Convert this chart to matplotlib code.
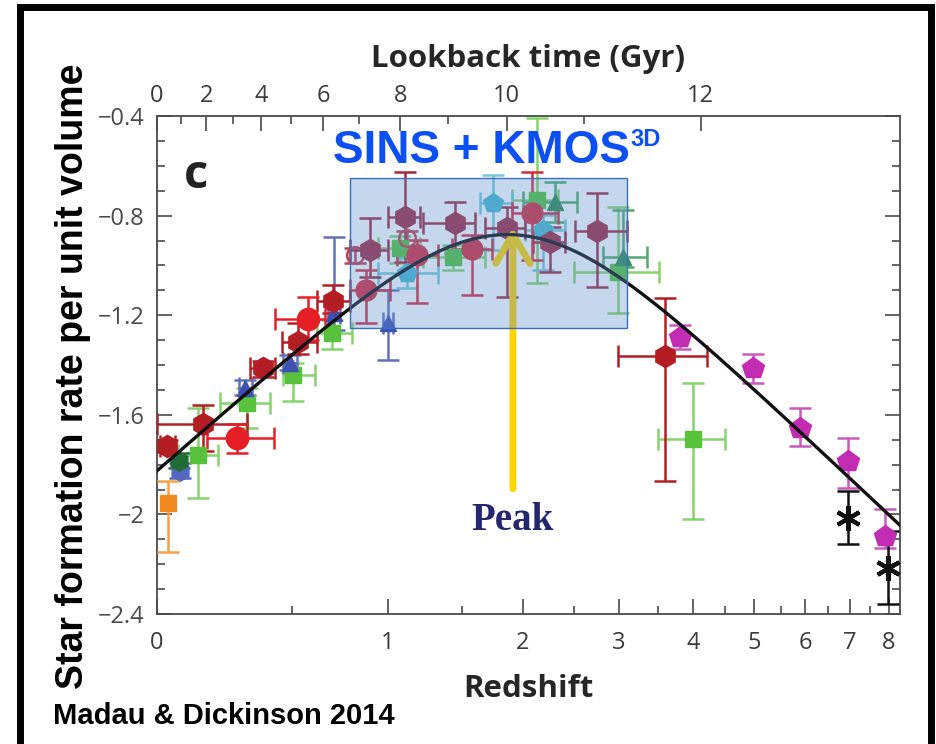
import numpy as np
import matplotlib
matplotlib.use('Agg')
import matplotlib.pyplot as plt
from matplotlib.patches import Rectangle

# best-fit cosmic star formation history (Madau & Dickinson 2014)
fit_norm = 0.015
fit_a = 2.7
fit_b = 2.9
fit_c = 5.6

# cosmology used for the lookback time axis
H0 = 70.0
Om = 0.3
OL = 0.7

# --- data: redshift, redshift bin edges, log10 SFR density and its range ---
# IR, dark red
ird_z = [0.030, 0.148, 0.375, 0.527, 0.696, 3.60]
ird_zlo = [0.009, 0.000, 0.322, 0.455, 0.617, 2.99]
ird_zhi = [0.055, 0.310, 0.425, 0.617, 0.785, 4.21]
ird_y = [-1.724, -1.635, -1.414, -1.309, -1.144, -1.362]
ird_ylo = [-1.750, -1.744, -1.450, -1.354, -1.193, -1.865]
ird_yhi = [-1.700, -1.559, -1.382, -1.233, -1.080, -1.132]

# IR, bright red
irr_z = [0.271, 0.574]
irr_zlo = [0.162, 0.425]
irr_zhi = [0.420, 0.656]
irr_y = [-1.692, -1.217]
irr_ylo = [-1.752, -1.301]
irr_yhi = [-1.635, -1.128]

# IR, rose hexagons
irh_z = [0.896, 1.105, 1.446, 1.860, 2.253, 2.748]
irh_zlo = [0.785, 1.001, 1.223, 1.677, 2.092, 2.508]
irh_zhi = [1.001, 1.202, 1.598, 2.018, 2.404, 3.101]
irh_y = [-0.939, -0.806, -0.831, -0.851, -0.907, -0.863]
irh_ylo = [-1.048, -0.988, -0.951, -1.128, -1.028, -1.088]
irh_yhi = [-0.810, -0.625, -0.746, -0.766, -0.847, -0.710]

# IR, rose circles
irp_z = [0.873, 1.183, 1.575, 2.083]
irp_zlo = [0.785, 1.056, 1.425, 1.903]
irp_zhi = [1.013, 1.325, 1.733, 2.333]
irp_y = [-1.100, -0.959, -0.935, -0.790]
irp_ylo = [-1.233, -1.153, -1.120, -0.979]
irp_yhi = [-1.020, -0.899, -0.879, -0.625]

# IR, open circles
iro_z = [0.812, 1.118]
iro_y = [-0.959, -0.891]

# UV, green squares
uvg_z = [0.131, 0.310, 0.504, 0.691, 1.074, 1.432, 2.130, 2.991, 4.000]
uvg_zlo = [0.065, 0.208, 0.460, 0.617, 0.942, 1.223, 1.903, 2.498, 3.500]
uvg_zhi = [0.201, 0.404, 0.607, 0.795, 1.202, 1.677, 2.333, 3.514, 4.503]
uvg_y = [-1.760, -1.551, -1.442, -1.273, -0.931, -0.967, -0.738, -1.028, -1.696]
uvg_ylo = [-1.933, -1.652, -1.543, -1.334, -0.990, -1.020, -1.072, -1.193, -2.018]
uvg_yhi = [-1.571, -1.491, -1.390, -1.221, -0.880, -0.920, -0.410, -0.766, -1.474]

# UV, dark green triangles
uvt_z = [2.303, 3.052]
uvt_zlo = [2.000, 2.816]
uvt_zhi = [2.529, 3.355]
uvt_y = [-0.746, -0.967]
uvt_ylo = [-0.827, -1.008]
uvt_yhi = [-0.666, -0.778]

# UV, local points
uvl_z = [0.068, 0.071]
uvl_y = [-1.784, -1.825]

# UV, blue triangles
uvb_z = [0.302, 0.491, 0.701, 1.001]
uvb_zlo = [0.280, 0.460, 0.670, 0.970]
uvb_zhi = [0.330, 0.520, 0.730, 1.030]
uvb_y = [-1.491, -1.390, -1.193, -1.233]
uvb_ylo = [-1.520, -1.420, -1.261, -1.378]
uvb_yhi = [-1.460, -1.360, -0.887, -1.100]

# UV, cyan pentagons
uvc_z = [1.118, 1.742, 2.186]
uvc_zlo = [0.942, 1.637, 2.018]
uvc_zhi = [1.325, 1.903, 2.404]
uvc_y = [-1.032, -0.750, -0.859]
uvc_ylo = [-1.092, -0.939, -1.020]
uvc_yhi = [-0.971, -0.637, -0.798]

# UV, magenta pentagons
uvm_z = [3.807, 4.985, 5.893, 6.961, 7.897]
uvm_y = [-1.289, -1.414, -1.652, -1.784, -2.086]
uvm_ylo = [-1.334, -1.474, -1.724, -1.893, -2.134]
uvm_yhi = [-1.241, -1.354, -1.571, -1.692, -1.977]

# UV, black stars
uvs_z = [6.961, 7.977]
uvs_y = [-2.014, -2.215]
uvs_ylo = [-2.118, -2.360]
uvs_yhi = [-1.905, -2.066]

# UV, orange square
uvo_z = [0.034]
uvo_y = [-1.953]
uvo_ylo = [-2.150]
uvo_yhi = [-1.865]

yticks = [-0.4, -0.8, -1.2, -1.6, -2.0, -2.4]
ytick_labels = ['\u22120.4', '\u22120.8', '\u22121.2', '\u22121.6', '\u22122', '\u22122.4']
zticks = [0, 1, 2, 3, 4, 5, 6, 7, 8]
gyr_ticks = [0, 2, 4, 6, 8, 10, 12]
gyr_minor = [1, 3, 5, 7, 9, 11]


def fwd(z):
    return np.log10(1 + np.asarray(z, dtype=float))


def inv(u):
    return 10 ** np.asarray(u, dtype=float) - 1


def draw(ax, z, y, ylo, yhi, color, marker, ms, zlo=None, zhi=None,
         ecolor=None, mfc=None, mew=None, zorder=3):
    z = np.array(z)
    y = np.array(y)
    yerr = [y - np.array(ylo), np.array(yhi) - y]
    xerr = None
    if zlo is not None:
        xerr = [z - np.array(zlo), np.array(zhi) - z]
    eb = ax.errorbar(z, y, yerr=yerr, xerr=xerr, ls='none', marker=marker,
                     ms=ms, color=color, mfc=mfc if mfc else color, mec=color,
                     ecolor=ecolor if ecolor else color, elinewidth=1.8,
                     capsize=8, capthick=1.8, zorder=zorder)
    if mew is not None:
        eb[0].set_markeredgewidth(mew)
    return eb


fig = plt.figure(figsize=(9.37, 7.44), dpi=100)
W, H = 937.0, 744.0
ax = fig.add_axes([157 / W, 1 - 614 / H, (900 - 157) / W, (614 - 116) / H])
ax.set_xscale('function', functions=(fwd, inv))
ax.set_xlim(0, 8.3)
ax.set_ylim(-2.4, -0.4)

# data points
draw(ax, uvo_z, uvo_y, uvo_ylo, uvo_yhi, '#f28a22', 's', 11, ecolor='#f4a24a')
draw(ax, uvg_z, uvg_y, uvg_ylo, uvg_yhi, '#58c23c', 's', 11,
     zlo=uvg_zlo, zhi=uvg_zhi, ecolor='#86d46c')
draw(ax, uvb_z, uvb_y, uvb_ylo, uvb_yhi, '#3e50b2', '^', 12,
     zlo=uvb_zlo, zhi=uvb_zhi, ecolor='#6271bb')
draw(ax, uvt_z, uvt_y, uvt_ylo, uvt_yhi, '#2e8b57', '^', 12,
     zlo=uvt_zlo, zhi=uvt_zhi, ecolor='#54a86e')
draw(ax, uvc_z, uvc_y, uvc_ylo, uvc_yhi, '#4cb8d2', 'p', 15,
     zlo=uvc_zlo, zhi=uvc_zhi, ecolor='#74c8dc')
draw(ax, [uvl_z[1]], [uvl_y[1]], [uvl_y[1] - 0.03], [uvl_y[1] + 0.03],
     '#5667c2', 'h', 14)
draw(ax, [uvl_z[0]], [uvl_y[0]], [uvl_y[0] - 0.03], [uvl_y[0] + 0.03],
     '#1f6b35', 'h', 14)
draw(ax, iro_z, iro_y, np.array(iro_y) - 0.03, np.array(iro_y) + 0.03,
     '#c04050', 'o', 12, mfc='none', mew=1.8)
draw(ax, irh_z, irh_y, irh_ylo, irh_yhi, '#a3283f', 'h', 16,
     zlo=irh_zlo, zhi=irh_zhi)
draw(ax, irp_z, irp_y, irp_ylo, irp_yhi, '#d82a3e', 'o', 15,
     zlo=irp_zlo, zhi=irp_zhi)
draw(ax, ird_z, ird_y, ird_ylo, ird_yhi, '#b31e24', 'h', 16,
     zlo=ird_zlo, zhi=ird_zhi)
draw(ax, irr_z, irr_y, irr_ylo, irr_yhi, '#e61e26', 'o', 16,
     zlo=irr_zlo, zhi=irr_zhi)
draw(ax, uvm_z, uvm_y, uvm_ylo, uvm_yhi, '#c12cb2', 'p', 16, ecolor='#c85cbc')
draw(ax, uvs_z, uvs_y, uvs_ylo, uvs_yhi, '#111111', (6, 2, 0), 18, mew=3)

# fit curve
zc = np.linspace(0, 8.3, 600)
psi = fit_norm * (1 + zc) ** fit_a / (1 + ((1 + zc) / fit_b) ** fit_c)
ax.plot(zc, np.log10(psi), color='#111111', lw=2.4, zorder=4)

# peak arrow, under the shaded box
ax.annotate('', xy=(1.91, -0.848), xytext=(1.91, -1.897),
            arrowprops=dict(arrowstyle='->,head_length=1.1,head_width=0.65',
                            lw=5, color='#ffd400', mutation_scale=19,
                            shrinkA=0, shrinkB=0),
            zorder=3.5)

# SINS + KMOS3D redshift window
ax.add_patch(Rectangle((0.785, -1.253), 3.10 - 0.785, 0.604,
                       facecolor='#5a8fc9', alpha=0.35, edgecolor='none',
                       zorder=5))
ax.add_patch(Rectangle((0.785, -1.253), 3.10 - 0.785, 0.604,
                       facecolor='none', edgecolor='#3b6fc0', lw=1.0,
                       zorder=5))

# axes styling
tick_font = {'family': 'Open Sans', 'size': 17, 'color': '#3a3a3a'}
for s in ax.spines.values():
    s.set_color('#4a4a4a')
    s.set_linewidth(1.3)
ax.set_yticks(yticks)
ax.set_yticklabels(ytick_labels, fontdict=tick_font)
ax.set_yticks(np.arange(-2.4, -0.35, 0.1), minor=True)
ax.set_xticks(zticks)
ax.set_xticklabels([str(t) for t in zticks], fontdict=tick_font)
ax.set_xticks([0.5, 1.5, 2.5, 3.5, 4.5, 5.5, 6.5, 7.5], minor=True)
ax.tick_params(which='both', direction='in', colors='#4a4a4a', width=1.2,
               right=True, top=False)
ax.tick_params(which='major', length=11, pad=9)
ax.tick_params(which='minor', length=6)
ax.tick_params(axis='x', which='major', labelsize=17, labelcolor='#3a3a3a',
               pad=12)

# lookback time axis
zz = np.linspace(0, 30, 30001)
integrand = 1.0 / ((1 + zz) * np.sqrt(Om * (1 + zz) ** 3 + OL))
t_look = (977.79 / H0) * np.concatenate(
    [[0], np.cumsum(0.5 * (integrand[1:] + integrand[:-1]) * np.diff(zz))])
ax2 = ax.twiny()
ax2.set_xscale('function', functions=(fwd, inv))
ax2.set_xlim(ax.get_xlim())
ax2.set_xticks(np.interp(gyr_ticks, t_look, zz))
ax2.set_xticklabels([str(t) for t in gyr_ticks], fontdict=tick_font)
ax2.set_xticks(np.interp(gyr_minor, t_look, zz), minor=True)
ax2.tick_params(which='both', direction='in', colors='#4a4a4a', width=1.2)
ax2.tick_params(which='major', length=11, pad=6, labelsize=17,
                labelcolor='#3a3a3a')
ax2.tick_params(which='minor', length=6)
for s in ax2.spines.values():
    s.set_visible(False)

label_font = {'family': 'Open Sans', 'size': 22.5, 'weight': 'bold',
              'color': '#262626'}
ax2.set_xlabel('Lookback time (Gyr)', fontdict=label_font, labelpad=12)
ax.set_xlabel('Redshift', fontdict=label_font, labelpad=14)

fig.text(73 / W, 1 - 376 / H, 'Star formation rate per unit volume',
         rotation=90, ha='center', va='center', fontsize=27,
         fontweight='bold', family='Liberation Sans', color='black')
fig.text(53 / W, 1 - 716 / H, 'Madau & Dickinson 2014', ha='left',
         va='center', fontsize=21, fontweight='bold',
         family='Liberation Sans', color='black')
fig.text(196 / W, 1 - 176 / H, 'c', ha='center', va='center', fontsize=34,
         fontweight='bold', family='Open Sans', color='#222222', zorder=6)
t1 = fig.text(333 / W, 1 - 163 / H, 'SINS + KMOS', ha='left',
              va='baseline', fontsize=33, fontweight='bold',
              family='Liberation Sans', color='#0b4ff5', zorder=7)
fig.canvas.draw()
bb = t1.get_window_extent()
fig.text((bb.x1 + 1) / fig.bbox.width, 1 - 146 / H, '3D', ha='left',
         va='baseline', fontsize=17, fontweight='bold',
         family='Liberation Sans', color='#0b4ff5', zorder=7)
fig.text(513 / W, 1 - 520 / H, 'Peak', ha='center', va='center',
         fontsize=28, fontweight='bold', family='Liberation Serif',
         color='#24276e')

# outer frame
fig.patches.append(Rectangle((20 / W, 1 - 745 / H), 911 / W, 738 / H,
                             transform=fig.transFigure, fill=False,
                             edgecolor='black', lw=5))

fig.savefig('out.png', dpi=100)
